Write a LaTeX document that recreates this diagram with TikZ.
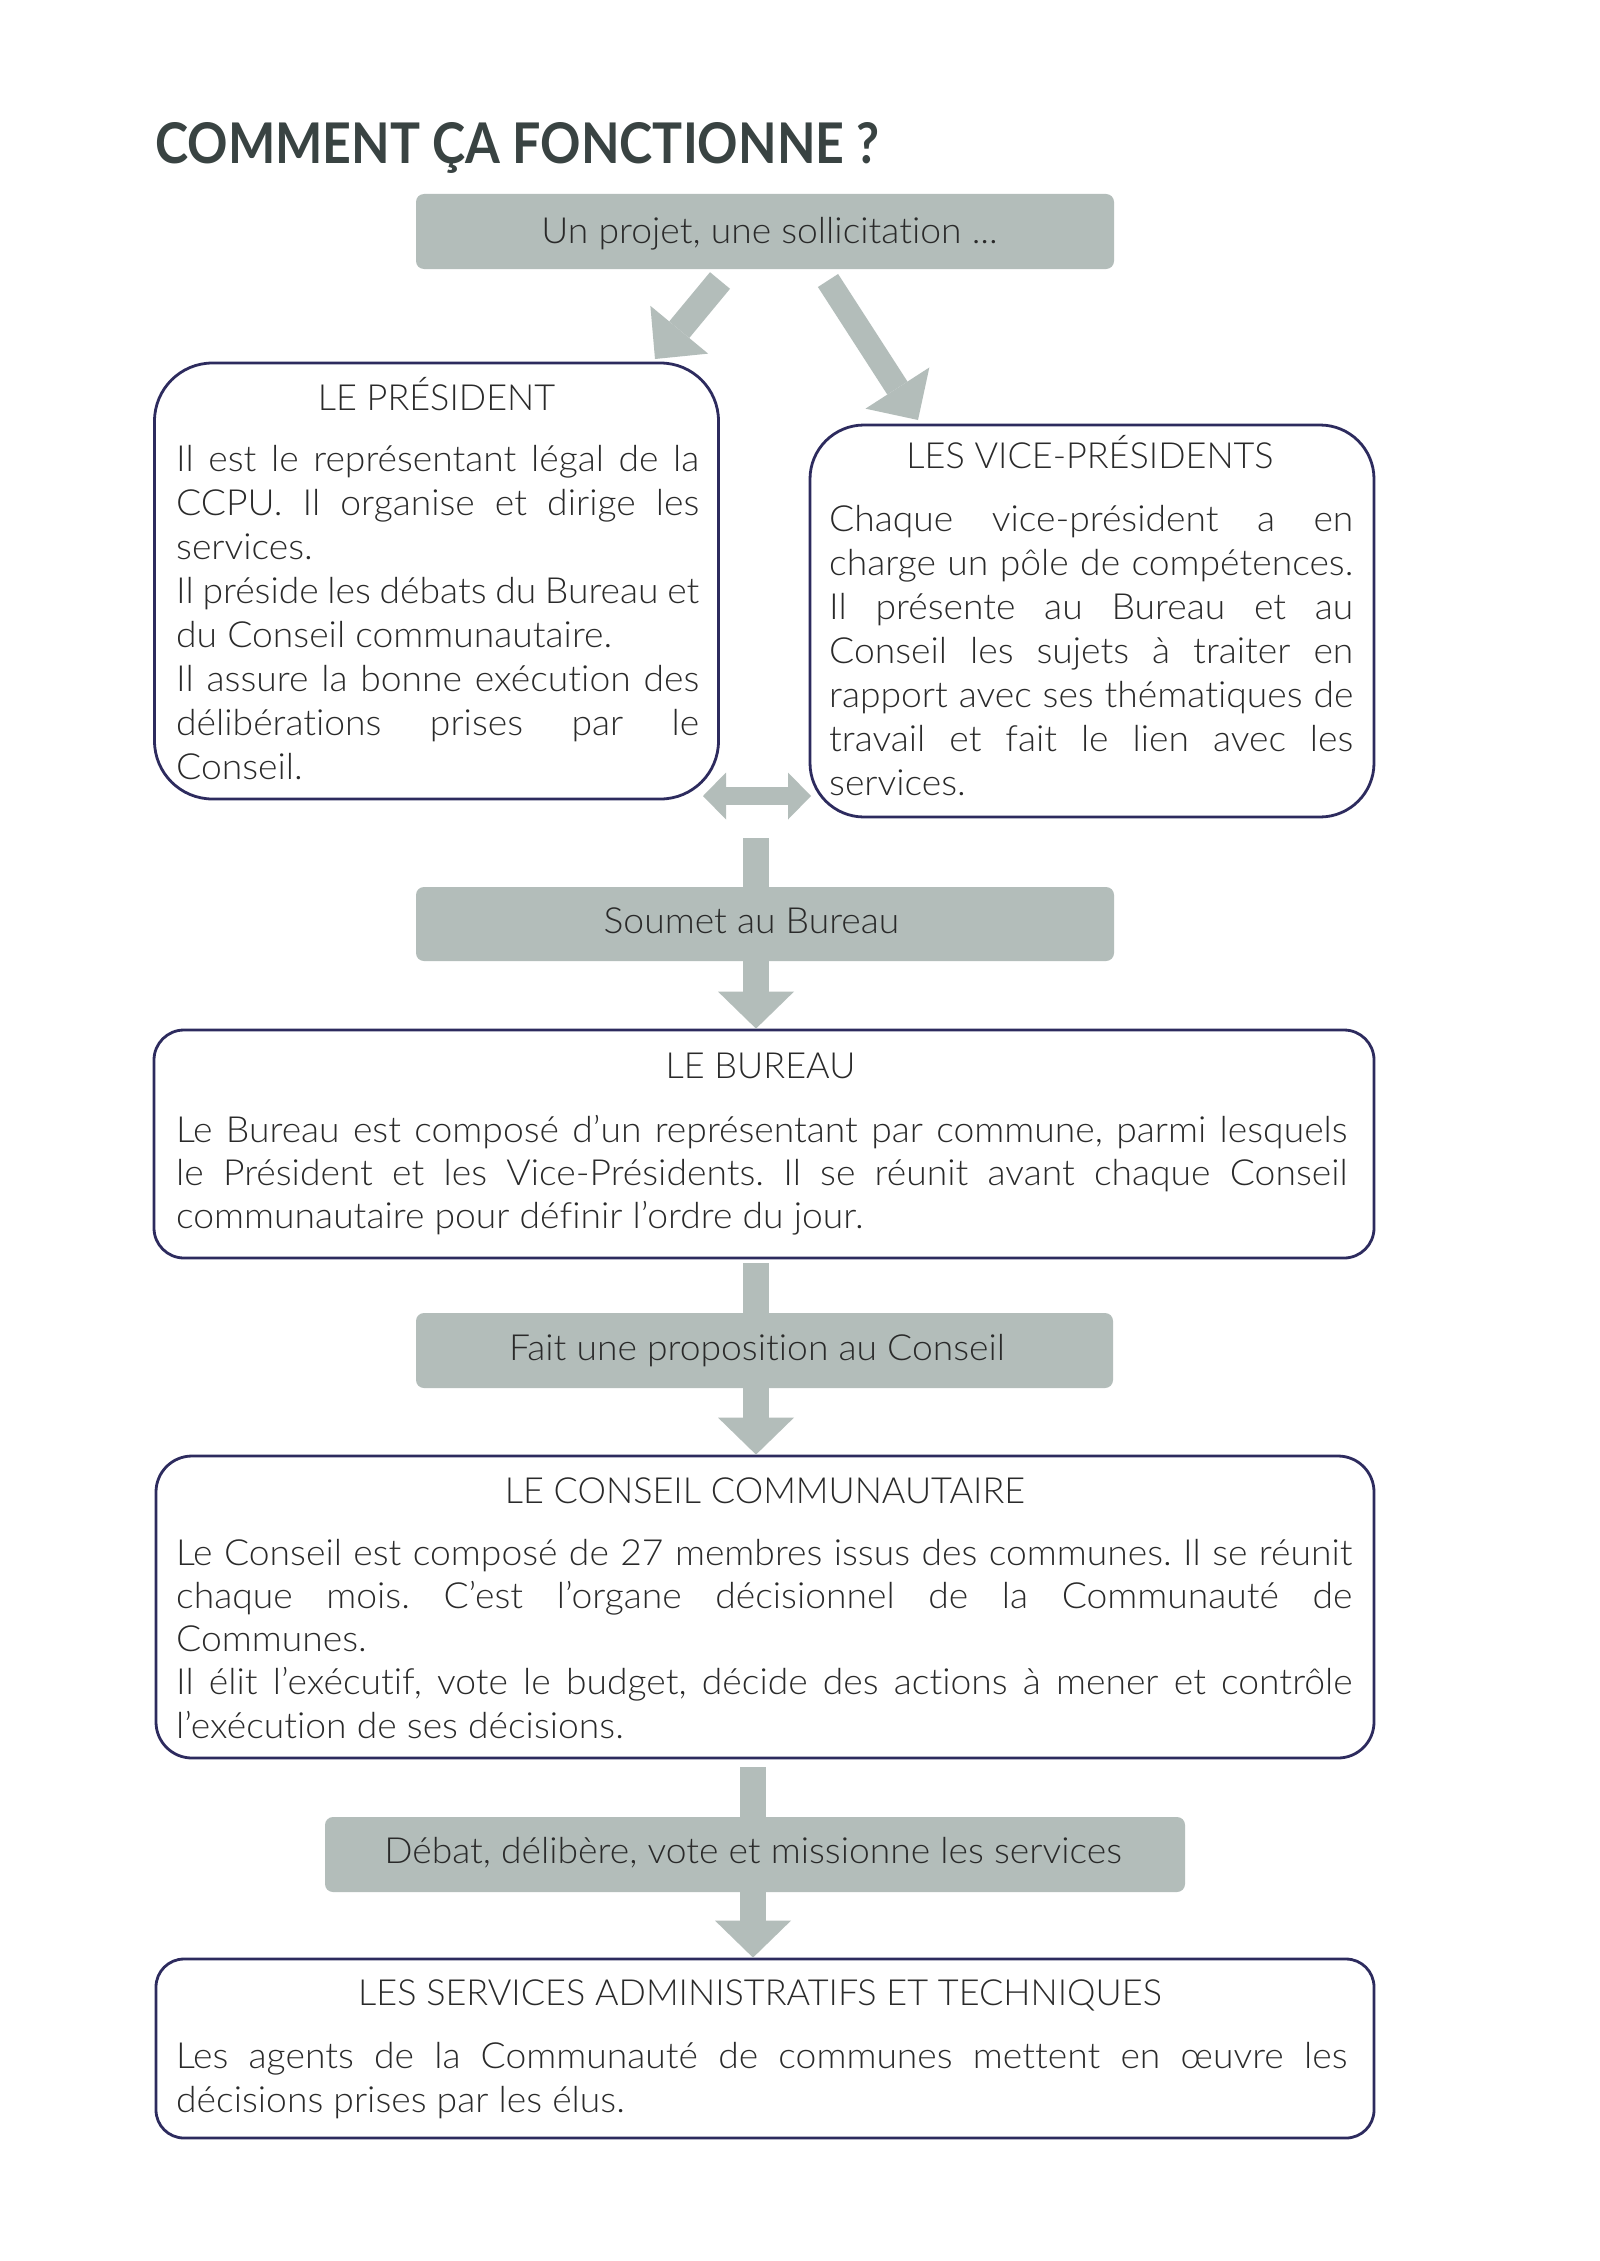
\documentclass[tikz,border=0pt]{standalone}
\usepackage{fontspec}
\usepackage{graphicx}
\usetikzlibrary{arrows.meta}
\IfFontExistsTF{Lato Light}{\def\bodyfontname{Lato Light}}{\def\bodyfontname{Lato}}
\setmainfont{\bodyfontname}[FakeStretch=1.035, Ligatures=NoCommon]
\newfontfamily\capsfont{\bodyfontname}[Ligatures=NoCommon]
\newfontfamily\titlefont{Lato}
\frenchspacing
\definecolor{boxgray}{HTML}{B3BDBA}
\definecolor{navy}{HTML}{2D2B5E}
\definecolor{txt}{HTML}{2A2A2A}
\definecolor{titlec}{HTML}{394342}
\newcommand\J[1]{\hbox to\hsize{#1}}
\newcommand\R[1]{\hbox to\hsize{#1\hfil}}
\newcommand\bodyblock[2]{\vtop{\hsize=#1\relax #2}}
\tikzset{
  graybox/.style={fill=boxgray, draw=none, rounded corners=8pt, inner sep=0pt},
  whitebox/.style={draw=navy, line width=2.8pt, fill=white, inner sep=0pt},
  lbl/.style={inner sep=0pt, text=txt, font=\fontsize{36pt}{44pt}\selectfont\frenchspacing},
  lbltight/.style={inner sep=0pt, text=txt, font=\fontsize{36pt}{43.3pt}\selectfont\frenchspacing},
  headlbl/.style={inner sep=0pt, text=txt, font=\capsfont\fontsize{36pt}{44pt}\selectfont},
  conn/.style={draw=boxgray, line width=26pt},
  bigtip/.style={-{Triangle[width=76pt,length=37pt,line width=0pt]}},
}
\begin{document}
\begin{tikzpicture}[x=1pt,y=-1pt]
\useasboundingbox (0,0) rectangle (1600,2261);
\fill[white] (0,0) rectangle (1600,2261);

% title
\node[anchor=base west, inner sep=0pt, text=titlec] (title) at (155,164)
  {\resizebox{724pt}{41pt}{\titlefont\bfseries COMMENT ÇA FONCTIONNE ?}};

% boxes
\node[graybox, minimum width=698pt, minimum height=75pt] (start) at (765,231.5) {};
\node[whitebox, rounded corners=58pt, minimum width=564pt, minimum height=436pt] (pres) at (436.5,581) {};
\node[whitebox, rounded corners=54pt, minimum width=564pt, minimum height=392pt] (vp) at (1092,621) {};
\node[graybox, minimum width=698pt, minimum height=74pt] (soumet) at (765,924) {};
\node[whitebox, rounded corners=30pt, minimum width=1220pt, minimum height=228pt] (bureau) at (764,1144) {};
\node[graybox, minimum width=697pt, minimum height=75pt] (fait) at (764.5,1350.5) {};
\node[whitebox, rounded corners=36pt, minimum width=1218pt, minimum height=302pt] (conseil) at (765,1607) {};
\node[graybox, minimum width=860pt, minimum height=75pt] (debat) at (755,1854.5) {};
\node[whitebox, rounded corners=28pt, minimum width=1218pt, minimum height=179pt] (services) at (765,2048.5) {};

% gray box texts
\node[lbl, anchor=base] (starttext) at (769.5,243) {Un projet, une sollicitation ...};
\node[lbl, anchor=base] (soumettext) at (751.5,933) {Soumet au Bureau};
\node[lbl, anchor=base] (faittext) at (757,1360) {Fait une proposition au Conseil};
\node[lbl, anchor=base] (debattext) at (753,1863) {Débat, délibère, vote et missionne les services};

% president
\node[headlbl, anchor=base] (prestitle) at (436.5,410) {LE PRÉSIDENT};
\node[lbl, anchor=base west] (presbody) at (176,471.5) {\bodyblock{523pt}{%
  \J{Il est le représentant légal de la}
  \J{CCPU. Il organise et dirige les}
  \R{services.}
  \J{Il préside les débats du Bureau et}
  \R{du Conseil communautaire.}
  \J{Il assure la bonne exécution des}
  \J{délibérations prises par le}
  \R{Conseil.}}};

% vice-presidents
\node[headlbl, anchor=base] (vptitle) at (1090,468.5) {LES VICE-PRÉSIDENTS};
\node[lbl, anchor=base west] (vpbody) at (829,531.5) {\bodyblock{524pt}{%
  \J{Chaque vice-président a en}
  \J{charge un pôle de compétences.}
  \J{Il présente au Bureau et au}
  \J{Conseil les sujets à traiter en}
  \J{rapport avec ses thématiques de}
  \J{travail et fait le lien avec les}
  \R{services.}}};

% bureau
\node[headlbl, anchor=base] (burtitle) at (760.5,1078) {LE BUREAU};
\node[lbltight, anchor=base west] (burbody) at (176,1142) {\bodyblock{1171pt}{%
  \J{Le Bureau est composé d’un représentant par commune, parmi lesquels}
  \J{le Président et les Vice-Présidents. Il se réunit avant chaque Conseil}
  \R{communautaire pour définir l’ordre du jour.}}};

% conseil
\node[headlbl, anchor=base] (contitle) at (765,1503) {LE CONSEIL COMMUNAUTAIRE};
\node[lbltight, anchor=base west] (conbody) at (176,1565) {\bodyblock{1176pt}{%
  \J{Le Conseil est composé de 27 membres issus des communes. Il se réunit}
  \J{chaque mois. C’est l’organe décisionnel de la Communauté de}
  \R{Communes.}
  \J{Il élit l’exécutif, vote le budget, décide des actions à mener et contrôle}
  \R{l’exécution de ses décisions.}}};

% services
\node[headlbl, anchor=base] (sertitle) at (760,2005) {LES SERVICES ADMINISTRATIFS ET TECHNIQUES};
\node[lbl, anchor=base west] (serbody) at (176,2068) {\bodyblock{1171pt}{%
  \J{Les agents de la Communauté de communes mettent en œuvre les}
  \R{décisions prises par les élus.}}};

% connectors
\coordinate (l1) at (720,280.5);
\coordinate (l2) at (655,359);
\coordinate (r1) at (828,280.5);
\coordinate (r2) at (918,420);
\coordinate (d1) at (703,796);
\coordinate (d2) at (811,796);
\coordinate (st1) at (756,838);
\coordinate (st2) at (756,1263);
\coordinate (st3) at (753,1767);

\draw[conn, -{Triangle[width=75pt,length=38pt,line width=0pt]}] (l1) -- (l2);
\draw[conn, line width=24pt, -{Triangle[width=76pt,length=38pt,line width=0pt]}] (r1) -- (r2);
\draw[conn, line width=18pt, {Triangle[width=47pt,length=23pt,line width=0pt]}-{Triangle[width=47pt,length=23pt,line width=0pt]}] (d1) -- (d2);

\draw[conn] (st1) -- (soumet.north -| st1);
\draw[conn, bigtip] (soumet.south -| st1) -- (bureau.north -| st1);
\draw[conn] (st2) -- (fait.north -| st2);
\draw[conn, bigtip] (fait.south -| st2) -- (conseil.north -| st2);
\draw[conn] (st3) -- (debat.north -| st3);
\draw[conn, bigtip] (debat.south -| st3) -- (services.north -| st3);
\end{tikzpicture}
\end{document}
